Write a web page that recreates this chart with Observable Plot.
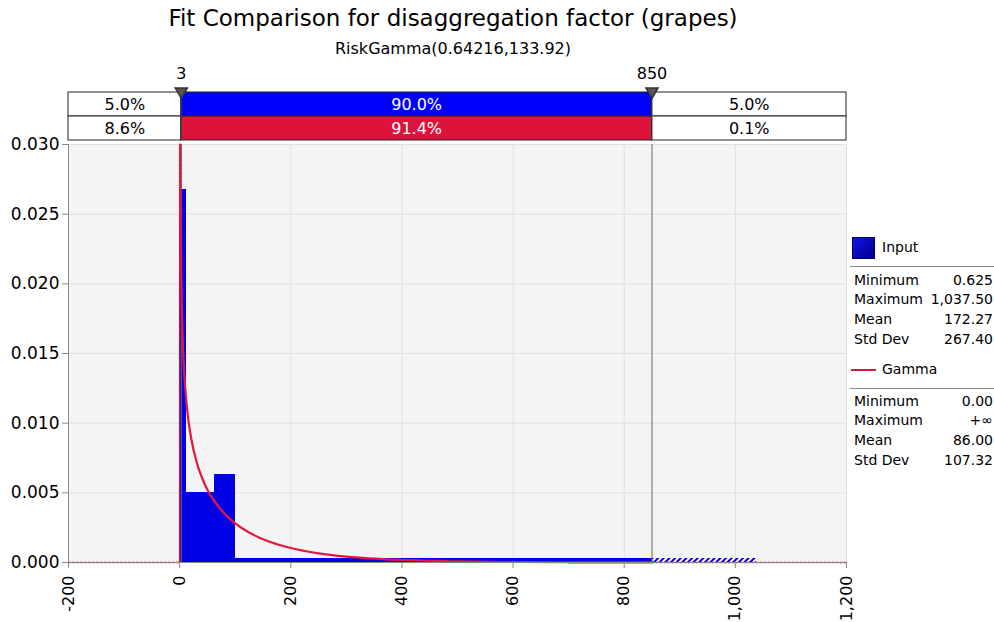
<!DOCTYPE html>
<html><head><meta charset="utf-8">
<script src="https://cdn.jsdelivr.net/npm/d3@7"></script>
<script src="https://cdn.jsdelivr.net/npm/@observablehq/plot@0.6"></script>
<style>
body{margin:0;background:#fff;font-family:"DejaVu Sans",sans-serif;color:#000;}
#wrap{position:relative;width:994px;height:622px;overflow:hidden;background:#fff;}
.abs{position:absolute;}
#title{left:0;width:906px;top:5px;text-align:center;font-size:23px;white-space:nowrap;}
#subtitle{left:0;width:906px;top:39px;text-align:center;font-size:16px;white-space:nowrap;}
#bands{left:0;top:60px;}
#main{left:0;top:140px;}
.leg{font-size:14px;white-space:nowrap;}
.row{position:absolute;left:854px;width:139px;display:flex;justify-content:space-between;font-size:14px;line-height:16px;}
.hr{position:absolute;left:850px;width:144px;height:1px;background:#8a8a8a;}
</style>
</head><body>
<div id="wrap">
  <div id="title" class="abs">Fit Comparison for disaggregation factor (grapes)</div>
  <div id="subtitle" class="abs">RiskGamma(0.64216,133.92)</div>
  <div id="bands" class="abs"></div>
  <div id="main" class="abs"></div>
</div>
<script>
// ---- data ----
const binLo = [0.625, 12.5, 62.5, 100, 850];
const binHi = [12.5, 62.5, 100, 850, 1037.5];
const binDensity = [0.02675, 0.00505, 0.00628, 0.000265, 0.000265];
const binHatched = [false, false, false, false, true];

const curveX = [1.05, 1.5, 2, 3, 5, 7.5, 10, 15, 20, 30, 40, 50, 60, 80, 100, 125, 150, 200, 250, 300, 400, 500, 600, 700, 850];
const curveY = [0.0300, 0.02633, 0.02366, 0.02031, 0.01667, 0.01415, 0.01253, 0.01044, 0.00908, 0.00729, 0.00610, 0.00523, 0.00455, 0.00353, 0.00281, 0.00215, 0.00167, 0.00104, 0.00066, 0.000425, 0.000182, 0.00008, 0.000035, 0.000016, 0.000005];
const tailX = [850, 1000, 1200];
const tailY = [0.000005, 0.0000015, 0.0000003];
const leftX = [-200, 0, 0];
const leftY = [0, 0, 0.030];

const delimiters = [3, 850];
const xDomain = [-200, 1200];
const xTicks = [-200, 0, 200, 400, 600, 800, 1000, 1200];
const yTicks = [0, 0.005, 0.010, 0.015, 0.020, 0.025, 0.030];

const bandRowNames = ["Input", "Gamma"];
const inputPct = ["5.0%", "90.0%", "5.0%"];
const gammaPct = ["8.6%", "91.4%", "0.1%"];

const inputStatLabels = ["Minimum", "Maximum", "Mean", "Std Dev"];
const inputStatValues = ["0.625", "1,037.50", "172.27", "267.40"];
const gammaStatLabels = ["Minimum", "Maximum", "Mean", "Std Dev"];
const gammaStatValues = ["0.00", "+∞", "86.00", "107.32"];

// ---- colours ----
const BLUE = "#0000e6";
const BAND_BLUE = "#0000ff";
const RED = "#dc143c";
const CURVE_RED = "#e3173e";
const FONT = "DejaVu Sans, sans-serif";

// ---- band strip ----
const edges = [xDomain[0], ...delimiters, xDomain[1]];
const segs = [];
[inputPct, gammaPct].forEach((pcts, r) => {
  pcts.forEach((p, i) => {
    segs.push({row: bandRowNames[r], x1: edges[i], x2: edges[i + 1], label: p,
      fill: i === 1 ? (r === 0 ? BAND_BLUE : RED) : "#ffffff",
      color: i === 1 ? "#ffffff" : "#000000"});
  });
});

const bands = Plot.plot({
  width: 994, height: 80,
  marginLeft: 68, marginRight: 148, marginTop: 32, marginBottom: 0,
  x: {domain: xDomain, axis: null},
  y: {domain: bandRowNames, axis: null, padding: 0},
  style: {fontFamily: FONT, fontSize: "16px", background: "transparent", overflow: "visible"},
  marks: [
    Plot.barX(segs, {x1: "x1", x2: "x2", y: "row", fill: "fill", stroke: "#222", strokeWidth: 1, inset: 0}),
    Plot.text(segs, {x: d => (d.x1 + d.x2) / 2, y: "row", text: "label", fill: "color", fontSize: 16}),
    Plot.ruleX(delimiters, {stroke: "#444", strokeWidth: 1}),
    Plot.dot(delimiters, {x: d => d, frameAnchor: "top", symbol: "triangle", rotate: 180, r: 4.5, fill: "#555", stroke: "#333", dy: -1}),
    Plot.text(delimiters, {x: d => d, frameAnchor: "top", lineAnchor: "middle", dy: -19, text: d => String(d), fontSize: 16})
  ]
});
document.getElementById("bands").appendChild(bands);

// ---- main chart ----
const bins = binLo.map((lo, i) => ({x1: lo, x2: binHi[i], y: binDensity[i], hatched: binHatched[i]}));
const curve = curveX.map((x, i) => ({x, y: curveY[i]}));
const tail = tailX.map((x, i) => ({x, y: tailY[i]}));
const left = leftX.map((x, i) => ({x, y: leftY[i]}));

const main = Plot.plot({
  width: 994, height: 482,
  marginLeft: 68, marginRight: 148, marginTop: 4, marginBottom: 60,
  x: {domain: xDomain, label: null},
  y: {domain: [0, 0.03], label: null},
  style: {fontFamily: FONT, fontSize: "17px", background: "transparent", color: "#000", overflow: "visible"},
  marks: [
    Plot.frame({fill: "#f4f4f4", stroke: null}),
    Plot.gridX(xTicks, {stroke: "#e0e0e0", strokeOpacity: 1}),
    Plot.gridY(yTicks, {stroke: "#e0e0e0", strokeOpacity: 1}),
    Plot.rectY(bins.filter(d => !d.hatched), {x1: "x1", x2: "x2", y: "y", fill: BLUE, shapeRendering: "crispEdges"}),
    Plot.rectY(bins.filter(d => d.hatched), {x1: "x1", x2: "x2", y: "y", fill: "url(#hatch)", shapeRendering: "crispEdges"}),
    Plot.ruleX(delimiters, {stroke: "#666", strokeWidth: 1}),
    Plot.line(left, {x: "x", y: "y", stroke: RED, strokeWidth: 1.5, strokeDasharray: "2,2"}),
    Plot.line(tail, {x: "x", y: "y", stroke: RED, strokeWidth: 1.5, strokeDasharray: "2,2"}),
    Plot.line(curve, {x: "x", y: "y", stroke: CURVE_RED, strokeWidth: 2.2, curve: "monotone-x"}),
    Plot.ruleX([xDomain[0]], {stroke: "#888"}),
    Plot.ruleY([0], {stroke: "#888"}),
    Plot.axisY(yTicks, {tickFormat: d3.format(".3f"), tickSize: 6, tickPadding: 3, stroke: "#888", fontSize: 17, fill: "#000"}),
    Plot.axisX(xTicks, {tickFormat: d => d.toLocaleString("en-US"), tickRotate: -90, tickSize: 6, tickPadding: 7, stroke: "#888", fontSize: 16, fill: "#000"})
  ]
});
const ns = "http://www.w3.org/2000/svg";
const defs = document.createElementNS(ns, "defs");
defs.innerHTML = `<pattern id="hatch" patternUnits="userSpaceOnUse" width="4" height="4" patternTransform="rotate(45)"><rect width="4" height="4" fill="#ffffff"/><rect width="2" height="4" fill="${BLUE}"/></pattern>`;
main.insertBefore(defs, main.firstChild);
document.getElementById("main").appendChild(main);

// ---- legend panel ----
const wrap = document.getElementById("wrap");
function add(html) { const d = document.createElement("div"); d.innerHTML = html; wrap.appendChild(d.firstChild); }
add(`<div class="abs" style="left:852px;top:237px;width:23px;height:22px;background:linear-gradient(135deg,#1414e6,#00008c);border:1px solid #000070;box-sizing:border-box;"></div>`);
add(`<div class="abs leg" style="left:882px;top:239px;">Input</div>`);
add(`<div class="hr" style="top:266px;"></div>`);
const rowTops1 = [272, 291, 311, 331];
inputStatLabels.forEach((l, i) => add(`<div class="row" style="top:${rowTops1[i]}px;"><span>${l}</span><span>${inputStatValues[i]}</span></div>`));
add(`<div class="abs" style="left:851px;top:369px;width:25px;height:2px;background:${RED};"></div>`);
add(`<div class="abs leg" style="left:882px;top:361px;">Gamma</div>`);
add(`<div class="hr" style="top:388px;"></div>`);
const rowTops2 = [393, 412, 432, 452];
gammaStatLabels.forEach((l, i) => add(`<div class="row" style="top:${rowTops2[i]}px;"><span>${l}</span><span>${gammaStatValues[i]}</span></div>`));
</script>
</body></html>
